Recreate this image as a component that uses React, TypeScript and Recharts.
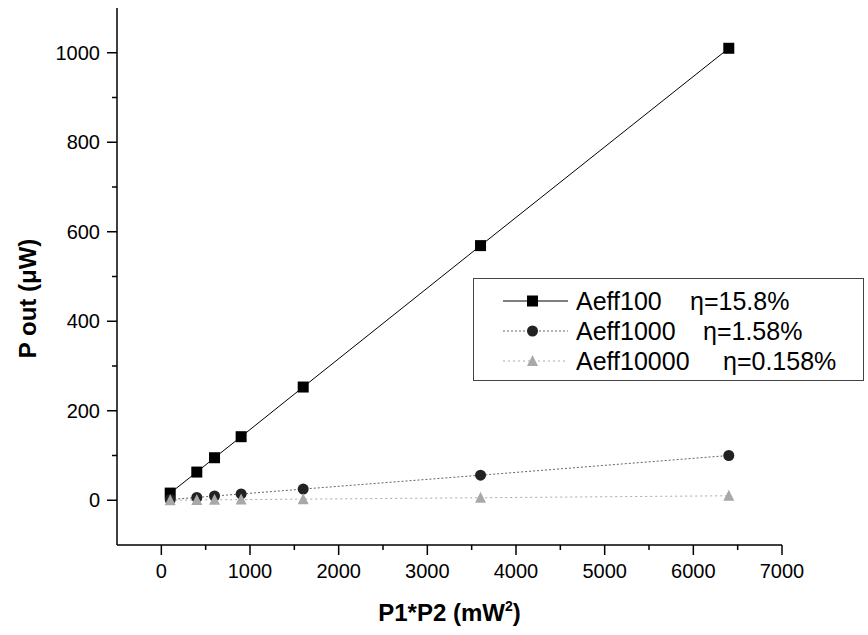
import { LineChart, Line, XAxis, YAxis, Legend } from 'recharts';

const xValues = [100, 400, 600, 900, 1600, 3600, 6400];
const aeff100 = [16, 63, 95, 142, 253, 569, 1010];
const aeff1000 = [1.6, 6.3, 9.5, 14, 25, 56, 100];
const aeff10000 = [0.16, 0.63, 0.95, 1.4, 2.5, 5.6, 10];

const xTicks = [0, 500, 1000, 1500, 2000, 2500, 3000, 3500, 4000, 4500, 5000, 5500, 6000, 6500, 7000];
const yTicks = [0, 100, 200, 300, 400, 500, 600, 700, 800, 900, 1000];

const seriesInfo = [
  { key: 'aeff100', name: 'Aeff100', eta: 'η=15.8%', etaX: 690 },
  { key: 'aeff1000', name: 'Aeff1000', eta: 'η=1.58%', etaX: 703 },
  { key: 'aeff10000', name: 'Aeff10000', eta: 'η=0.158%', etaX: 723 },
];

const chartData = xValues.map((x, i) => ({
  x,
  aeff100: aeff100[i],
  aeff1000: aeff1000[i],
  aeff10000: aeff10000[i],
}));

const FONT = 'Arial, "Liberation Sans", sans-serif';

const Square = (props: any) => {
  const { cx, cy } = props;
  return <rect x={cx - 5.5} y={cy - 5.5} width={11} height={11} fill="#000" />;
};

const Circle = (props: any) => {
  const { cx, cy } = props;
  return <circle cx={cx} cy={cy} r={5.5} fill="#222" />;
};

const Triangle = (props: any) => {
  const { cx, cy } = props;
  return <path d={`M${cx},${cy - 6} L${cx + 5.5},${cy + 5} L${cx - 5.5},${cy + 5} Z`} fill="#a8a8a8" />;
};

const YTick = (props: any) => {
  const { x, y, payload } = props;
  const major = payload.value % 200 === 0;
  return (
    <g>
      <line x1={x - (major ? 10 : 5)} x2={x} y1={y} y2={y} stroke="#000" strokeWidth={1.5} />
      {major && (
        <text x={x - 17} y={y + 7} textAnchor="end" fontSize={20} fontFamily={FONT} fill="#000">
          {payload.value}
        </text>
      )}
    </g>
  );
};

const XTick = (props: any) => {
  const { x, y, payload } = props;
  const major = payload.value % 1000 === 0;
  return (
    <g>
      <line x1={x} x2={x} y1={y} y2={y + (major ? 10 : 5)} stroke="#000" strokeWidth={1.5} />
      {major && (
        <text x={x} y={y + 33} textAnchor="middle" fontSize={20} fontFamily={FONT} fill="#000">
          {payload.value}
        </text>
      )}
    </g>
  );
};

const XTitle = (props: any) => {
  const { viewBox } = props;
  const cx = viewBox.x + viewBox.width / 2;
  return (
    <text x={cx} y={621} textAnchor="middle" fontSize={24} fontWeight="bold" fontFamily={FONT} fill="#000">
      P1*P2 (mW
      <tspan fontSize={14} dy={-10}>2</tspan>
      <tspan dy={10}>)</tspan>
    </text>
  );
};

const YTitle = (props: any) => {
  const { viewBox } = props;
  const cy = viewBox.y + viewBox.height / 2 + 22;
  return (
    <text
      x={36}
      y={cy}
      transform={`rotate(-90, 36, ${cy})`}
      textAnchor="middle"
      fontSize={24}
      fontWeight="bold"
      fontFamily={FONT}
      fill="#000"
    >
      P out (μW)
    </text>
  );
};

const LegendBox = () => {
  const markers = [
    <rect x={24} y={-5.5} width={11} height={11} fill="#000" />,
    <circle cx={29.5} cy={0} r={5.5} fill="#222" />,
    <path d="M29.5,-6 L35,5 L24,5 Z" fill="#a8a8a8" />,
  ];
  const lines = [
    { stroke: '#000', dash: undefined },
    { stroke: '#666', dash: '2 2' },
    { stroke: '#aaa', dash: '2 3' },
  ];
  return (
    <svg width={392} height={104} style={{ display: 'block' }}>
      <rect x={0.5} y={0.5} width={390} height={102} fill="#fff" stroke="#444" strokeWidth={1} />
      {seriesInfo.map((s, i) => (
        <g key={s.key} transform={`translate(30, ${23 + i * 30})`}>
          <line x1={0} x2={65} y1={0} y2={0} stroke={lines[i].stroke} strokeDasharray={lines[i].dash} strokeWidth={1} />
          {markers[i]}
          <text x={73} y={9} fontSize={25} fontFamily={FONT} fill="#000">
            {s.name}
          </text>
          <text x={s.etaX - 473 - 30} y={9} fontSize={25} fontFamily={FONT} fill="#000">
            {s.eta}
          </text>
        </g>
      ))}
    </svg>
  );
};

export default function App() {
  return (
    <div style={{ position: 'absolute', left: 0, top: 0, background: '#fff' }}>
      <LineChart width={868} height={635} data={chartData} margin={{ top: 8, right: 86, bottom: 30, left: 57 }}>
        <XAxis
          dataKey="x"
          type="number"
          domain={[-500, 7000]}
          ticks={xTicks}
          interval={0}
          tick={<XTick />}
          tickSize={0}
          tickMargin={0}
          height={60}
          axisLine={{ stroke: '#000', strokeWidth: 1.5 }}
          tickLine={false}
          label={<XTitle />}
        />
        <YAxis
          type="number"
          domain={[-100, 1100]}
          ticks={yTicks}
          interval={0}
          tick={<YTick />}
          tickSize={0}
          tickMargin={0}
          width={60}
          axisLine={{ stroke: '#000', strokeWidth: 1.5 }}
          tickLine={false}
          label={<YTitle />}
        />
        <Legend
          layout="vertical"
          align="center"
          verticalAlign="middle"
          wrapperStyle={{ position: 'absolute', left: 473, top: 278, width: 392, height: 104 }}
          content={() => <LegendBox />}
        />
        <Line
          dataKey="aeff100"
          name="Aeff100"
          stroke="#000"
          strokeWidth={1}
          dot={<Square />}
          activeDot={false}
          isAnimationActive={false}
        />
        <Line
          dataKey="aeff1000"
          name="Aeff1000"
          stroke="#666"
          strokeWidth={1}
          strokeDasharray="2 2"
          dot={<Circle />}
          activeDot={false}
          isAnimationActive={false}
        />
        <Line
          dataKey="aeff10000"
          name="Aeff10000"
          stroke="#aaa"
          strokeWidth={1}
          strokeDasharray="2 3"
          dot={<Triangle />}
          activeDot={false}
          isAnimationActive={false}
        />
      </LineChart>
    </div>
  );
}
